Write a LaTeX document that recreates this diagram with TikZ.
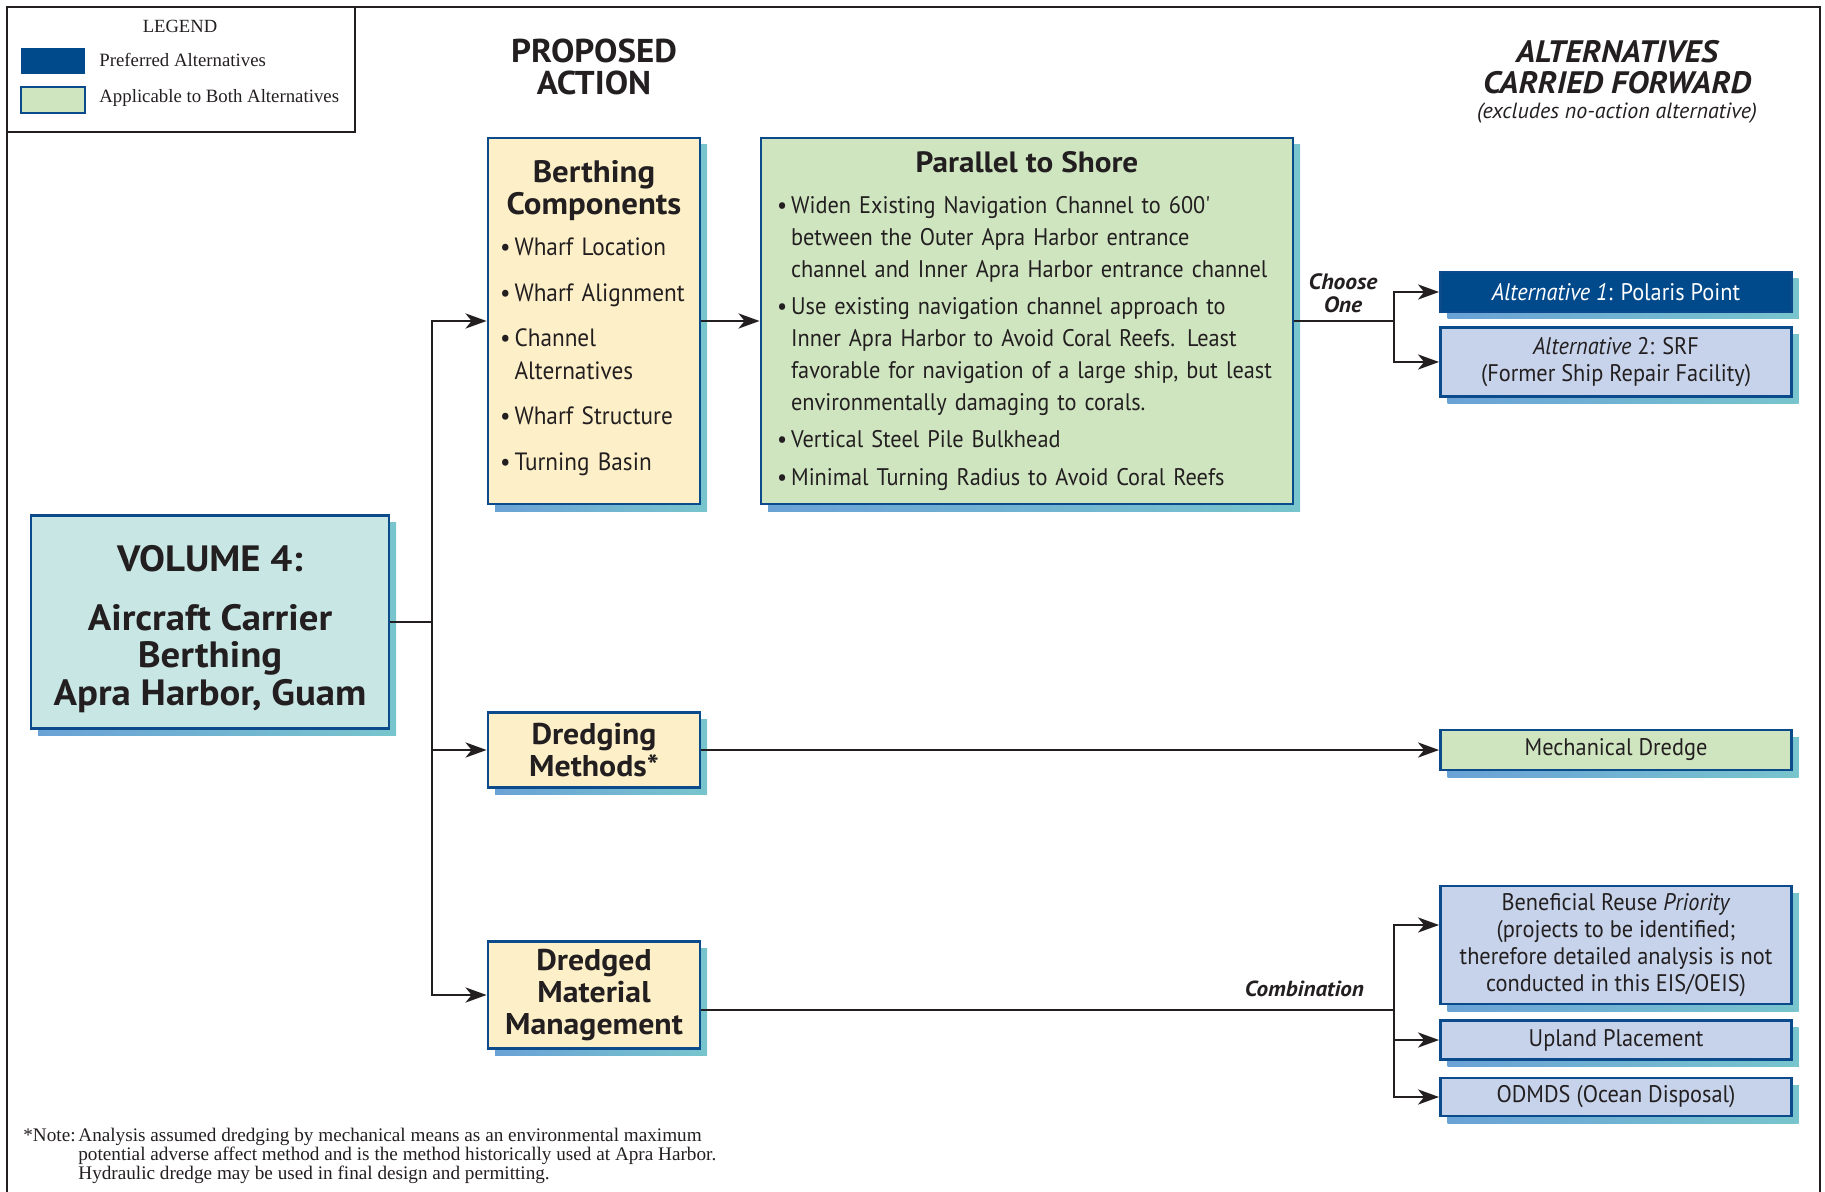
\documentclass[tikz,border=0pt]{standalone}
\usepackage{fontspec}
\setmainfont{Liberation Serif}
\setsansfont{PT Sans}
\newfontfamily\gillr[FakeStretch=0.93]{PT Sans}
\newfontfamily\gillb[FakeStretch=1.06]{PT Sans}
\usetikzlibrary{arrows.meta,shadows}

\definecolor{bordblue}{HTML}{0B4A8B}
\definecolor{prefblue}{HTML}{004A8C}
\definecolor{boxyellow}{HTML}{FDF0C8}
\definecolor{boxgreen}{HTML}{CFE5C0}
\definecolor{boxteal}{HTML}{C8E7E4}
\definecolor{boxlilac}{HTML}{C6D3EA}
\definecolor{shadeA}{HTML}{6AA2D6}
\definecolor{shadeB}{HTML}{78C5CD}
\definecolor{ink}{HTML}{231F20}

\newcommand{\blt}{\textbullet\kern2pt}
\newcommand{\bind}{\phantom{\textbullet\kern2pt}}

\begin{document}
\begin{tikzpicture}[x=0.5pt,y=-0.5pt,text=ink,
  box/.style={draw=bordblue,line width=1.4pt,inner sep=0pt,
    drop shadow={left color=shadeA,right color=shadeB,shadow xshift=3.5pt,
      shadow yshift=-3.5pt,opacity=1}},
  head/.style={font=\gillb\bfseries\fontsize{16.5}{15.7}\selectfont,align=center},
  altbox/.style={box,minimum width=175.5pt,font=\gillr\fontsize{12}{13.4}\selectfont,align=center},
  conn/.style={draw=ink,line width=1.4pt},
  arr/.style={conn,-{Stealth[length=10.5pt,width=7.5pt,inset=3pt]}},
  swatch/.style={minimum width=32pt,minimum height=13pt,inner sep=0pt}]
  \useasboundingbox (0,0) rectangle (1825,1192);
  % frame and legend
  \draw[line width=1pt,draw=ink] (7,1192) -- (7,7) -- (1820,7) -- (1820,1192);
  \draw[line width=0.7pt,draw=ink] (7,132) -- (355,132) -- (355,7);
  \node[font=\rmfamily\fontsize{9.3}{9.3}\selectfont] (leg) at (180,26) {LEGEND};
  \node[swatch,fill=prefblue] (sw1) at (53,61) {};
  \node[swatch,fill=boxgreen,draw=bordblue,line width=1.2pt] (sw2) at (53,100) {};
  \node[anchor=west,inner xsep=0pt,font=\rmfamily\fontsize{9.4}{9.4}\selectfont] (lg1) at (99,60) {Preferred Alternatives};
  \node[anchor=west,inner xsep=0pt,font=\rmfamily\fontsize{9.4}{9.4}\selectfont] (lg2) at (99,98) {Applicable to Both Alternatives};
  % column heads
  \node[head] (hpa) at (594,67) {PROPOSED\\ACTION};
  \node[head,font=\gillb\bfseries\itshape\fontsize{15.5}{15.7}\selectfont] (hacf) at (1617,67) {ALTERNATIVES\\CARRIED FORWARD};
  \node[font=\sffamily\itshape\fontsize{11}{11}\selectfont] (hnote) at (1617,113) {(excludes no-action alternative)};
  % boxes
  \node[box,fill=boxteal,minimum width=179pt,minimum height=106.5pt,align=center,
    font=\gillb\bfseries\fontsize{18.3}{18.6}\selectfont] (vol) at (210,622)
    {\rule{0pt}{20pt}VOLUME 4:\\[11pt]Aircraft Carrier\\Berthing\\Apra Harbor, Guam};
  \node[box,fill=boxyellow,minimum width=106pt,minimum height=183pt,text width=94pt,inner xsep=6pt,align=left,
    font=\gillr\fontsize{12.5}{16.3}\selectfont] (berth) at (594,321)
    {\makebox[\linewidth]{\gillb\bfseries\fontsize{15.5}{16}\selectfont Berthing}\\
     \makebox[\linewidth]{\gillb\bfseries\fontsize{15.5}{16}\selectfont Components}\\[4.3pt]
     \blt Wharf Location\\[6.4pt]
     \blt Wharf Alignment\\[6.4pt]
     \blt Channel\\
     \bind Alternatives\\[6.4pt]
     \blt Wharf Structure\\[6.4pt]
     \blt Turning Basin\rule[-6pt]{0pt}{6pt}};
  \node[box,fill=boxgreen,minimum width=266pt,minimum height=183pt,text width=250pt,inner xsep=8pt,align=left,
    font=\gillr\fontsize{12}{16}\selectfont] (para) at (1027,321)
    {\makebox[\linewidth]{\gillb\bfseries\fontsize{14.7}{16}\selectfont Parallel to Shore}\\[4.4pt]
     \blt Widen Existing Navigation Channel to 600'\\
     \bind between the Outer Apra Harbor entrance\\
     \bind channel and Inner Apra Harbor entrance channel\\[2.6pt]
     \blt Use existing navigation channel approach to\\
     \bind Inner Apra Harbor to Avoid Coral Reefs. Least\\
     \bind favorable for navigation of a large ship, but least\\
     \bind environmentally damaging to corals.\\[2.6pt]
     \blt Vertical Steel Pile Bulkhead\\[2.6pt]
     \blt Minimal Turning Radius to Avoid Coral Reefs};
  \node[box,fill=boxyellow,minimum width=106pt,minimum height=37.5pt,align=center,
    font=\gillb\bfseries\fontsize{15}{15.7}\selectfont] (dredge) at (594,750) {Dredging\\Methods*};
  \node[box,fill=boxyellow,minimum width=106pt,minimum height=53.5pt,align=center,
    font=\gillb\bfseries\fontsize{15}{16}\selectfont] (dmm) at (594,995) {Dredged\\Material\\Management};
  \node[altbox,fill=prefblue,minimum height=20pt,text=white] (alt1) at (1616,292)
    {\textit{Alternative 1}: Polaris Point};
  \node[altbox,fill=boxlilac,minimum height=34.5pt] (alt2) at (1616,362)
    {\textit{Alternative} 2: SRF\\(Former Ship Repair Facility)};
  \node[altbox,fill=boxgreen,minimum height=20pt] (mech) at (1616,750) {Mechanical Dredge};
  \node[altbox,fill=boxlilac,minimum height=59pt] (benef) at (1616,945)
    {Beneficial Reuse \textit{Priority}\\(projects to be identified;\\therefore detailed analysis is not\\conducted in this EIS/OEIS)};
  \node[altbox,fill=boxlilac,minimum height=19.5pt] (upl) at (1616,1040) {Upland Placement};
  \node[altbox,fill=boxlilac,minimum height=19pt] (odm) at (1616,1097) {ODMDS (Ocean Disposal)};
  % connectors
  \coordinate (trunk) at (432,622);
  \coordinate (chs) at (1394,321);
  \coordinate (cmb) at (1394,1010);
  \draw[conn] (vol.east) -- (trunk);
  \draw[arr] (trunk) |- (berth.west);
  \draw[arr] (trunk) |- (dredge.west);
  \draw[arr] (trunk) |- (dmm.west);
  \draw[arr] (berth) -- (para);
  \draw[conn] (para.east) -- (chs);
  \draw[arr] (chs) |- (alt1.west);
  \draw[arr] (chs) |- (alt2.west);
  \draw[arr] (dredge) -- (mech);
  \draw[conn] ([yshift=-7.5pt]dmm.east) -- (cmb);
  \draw[arr] (cmb) |- ([yshift=10pt]benef.west);
  \draw[arr] (cmb) |- (upl.west);
  \draw[arr] (cmb) |- (odm.west);
  \node[align=center,font=\gillb\bfseries\itshape\fontsize{11.1}{11.6}\selectfont] (ch1) at (1343,293) {Choose\\One};
  \node[anchor=east,font=\gillb\bfseries\itshape\fontsize{10.9}{12}\selectfont] (cb1) at (1371,989) {Combination};
  % footnote
  \node[anchor=west,inner xsep=0pt,align=left,font=\rmfamily\fontsize{9.6}{9.4}\selectfont] (note) at (23,1156)
    {\makebox[27.5pt][l]{*Note:}Analysis assumed dredging by mechanical means as an environmental maximum\\
     \hspace*{27.5pt}potential adverse affect method and is the method historically used at Apra Harbor.\\
     \hspace*{27.5pt}Hydraulic dredge may be used in final design and permitting.};
\end{tikzpicture}
\end{document}
